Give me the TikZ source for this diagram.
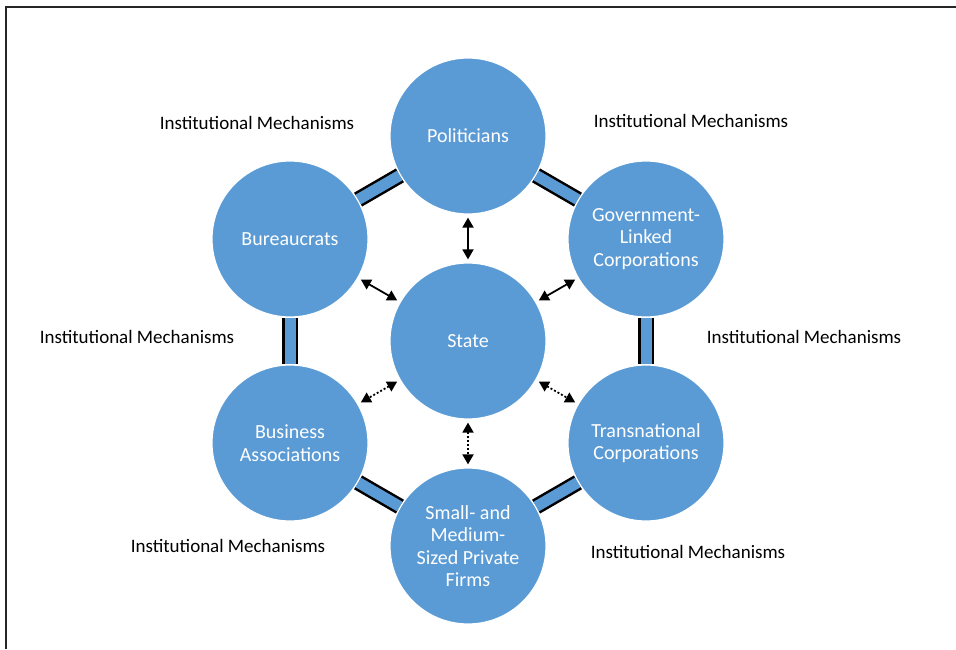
\documentclass[tikz,border=0pt]{standalone}
\usepackage{fontspec}
\setmainfont{Carlito}
\usetikzlibrary{positioning, arrows.meta, backgrounds}
\definecolor{circblue}{RGB}{91,155,213}

\begin{document}
\begin{tikzpicture}[x=1pt, y=1pt,
    main/.style = {circle, fill=circblue, draw=white, line width=1.2pt, minimum size=156pt, inner sep=0pt, align=center, text=white, font=\fontsize{20}{22.5}\selectfont},
    mech/.style = {font=\fontsize{19}{23}\selectfont},
    band/.style = {line width=2.5pt, double=circblue, double distance=11pt},
    link/.style = {{Triangle[length=10pt,width=11pt]}-{Triangle[length=10pt,width=11pt]}, line width=1.8pt, shorten <=3pt, shorten >=3pt},
    dotlink/.style = {link, dash pattern=on 2pt off 2pt},
    node distance = 205pt, on grid]
    \useasboundingbox (0,0) rectangle (956,649);
    \draw[line width=2pt, black!85] (6,0) -- (6,642) -- (956,642);
    \node[main](1) at (468,308) {State};
    \node[main](2) [above=of 1] {Politicians};
    \node[main](3) [above left=102pt and 178pt of 1] {Bureaucrats};
    \node[main](4) [above right=102pt and 178pt of 1] {Government-\\Linked\\Corporations};
    \node[main](5) [below left=102pt and 178pt of 1] {Business\\Associations};
    \node[main](6) [below right=102pt and 178pt of 1] {Transnational\\Corporations};
    \node[main](7) [below=of 1] {Small- and\\Medium-\\Sized Private\\Firms};
    \node[mech](8) at (257,526) {Institutional Mechanisms};
    \node[mech](9) at (691,528) {Institutional Mechanisms};
    \node[mech](10) at (137,312) {Institutional Mechanisms};
    \node[mech](11) at (804,312) {Institutional Mechanisms};
    \node[mech](12) at (228,103) {Institutional Mechanisms};
    \node[mech](13) at (688,97) {Institutional Mechanisms};
    \begin{scope}[on background layer]
        \draw[band] (3) -- (2);
        \draw[band] (2) -- (4);
        \draw[band] (4) -- (6);
        \draw[band] (6) -- (7);
        \draw[band] (7) -- (5);
        \draw[band] (5) -- (3);
    \end{scope}
    \draw[link] (1) -- (2);
    \draw[link] (1) -- (3);
    \draw[link] (1) -- (4);
    \draw[dotlink] (1) -- (5);
    \draw[dotlink] (1) -- (6);
    \draw[dotlink] (1) -- (7);
\end{tikzpicture}
\end{document}
